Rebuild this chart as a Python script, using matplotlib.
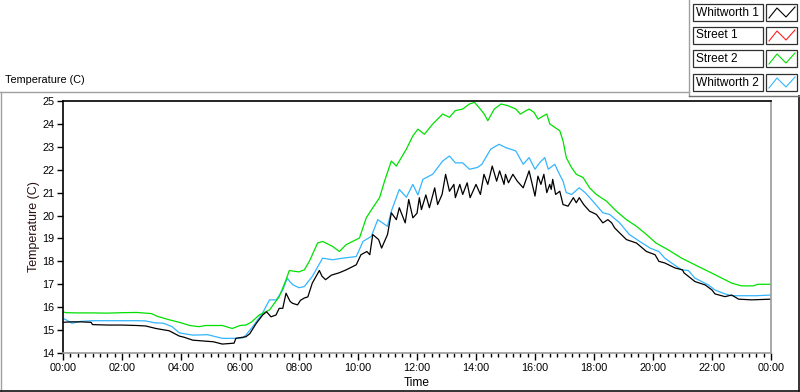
import matplotlib
matplotlib.use("Agg")
import matplotlib.pyplot as plt
from matplotlib.lines import Line2D
from matplotlib.patches import Rectangle
from matplotlib.ticker import MultipleLocator, FixedLocator

plt.rcParams['font.family'] = ['Liberation Sans', 'DejaVu Sans']

# ---------------- data ----------------
series_names = ["Whitworth 1", "Street 1", "Street 2", "Whitworth 2"]
series_colors = ["#000000", "#ff2020", "#00e000", "#33b5ff"]

w1_t = [0, 0.3, 0.6, 0.95, 1.0, 1.5, 2.0, 2.5, 2.8, 3.15, 3.6, 3.94, 4.1, 4.4, 5.1, 5.4,
        5.8, 5.86, 6.2, 6.33, 6.55, 6.77, 6.9, 7.05, 7.22, 7.33, 7.45, 7.56, 7.7, 7.78,
        7.95, 8.05, 8.18, 8.3, 8.45, 8.69, 8.78, 8.9, 9.1, 9.36, 9.6, 9.94, 10.1, 10.3,
        10.4, 10.5, 10.7, 10.8, 11.0, 11.13, 11.3, 11.4, 11.6, 11.72, 11.86, 12.0, 12.08,
        12.15, 12.3, 12.42, 12.6, 12.7, 12.85, 12.97, 13.1, 13.25, 13.3, 13.45, 13.55,
        13.7, 13.8, 14.0, 14.15, 14.27, 14.4, 14.55, 14.7, 14.8, 14.95, 15.0, 15.1,
        15.25, 15.4, 15.6, 15.8, 16.0, 16.1, 16.2, 16.3, 16.4, 16.5, 16.55, 16.6, 16.7,
        16.84, 16.95, 17.12, 17.3, 17.4, 17.5, 17.65, 17.85, 18.08, 18.3, 18.47, 18.6,
        18.7, 18.87, 19.1, 19.44, 19.78, 20.07, 20.2, 20.4, 20.75, 21.0, 21.05, 21.42,
        21.77, 22.0, 22.1, 22.44, 22.67, 22.9, 23.35, 24.0]
w1_v = [15.34, 15.36, 15.36, 15.34, 15.24, 15.22, 15.22, 15.2, 15.18, 15.07, 14.97, 14.74,
        14.69, 14.56, 14.49, 14.39, 14.43, 14.64, 14.71, 14.84, 15.29, 15.66, 15.8, 15.58,
        15.66, 15.95, 15.95, 16.61, 16.25, 16.17, 16.1, 16.3, 16.4, 16.45, 17.05, 17.6,
        17.35, 17.2, 17.4, 17.5, 17.63, 17.85, 18.29, 18.43, 18.29, 19.17, 18.95, 18.58,
        19.17, 20.12, 19.82, 20.34, 19.68, 20.7, 19.9, 20.1, 20.78, 20.26, 20.9, 20.34,
        21.21, 20.48, 20.92, 21.8, 21.06, 21.36, 20.78, 21.36, 20.92, 21.43, 20.78, 21.36,
        20.92, 21.8, 21.36, 22.16, 21.5, 21.95, 21.36, 21.8, 21.43, 21.8, 21.5, 21.21,
        21.95, 20.85, 21.72, 21.36, 21.8, 21.0, 21.36, 21.14, 21.58, 20.92, 21.06, 20.48,
        20.41, 20.78, 20.56, 20.78, 20.48, 20.19, 20.05, 19.68, 19.82, 19.68, 19.46, 19.24,
        18.95, 18.8, 18.43, 18.29, 18.0, 17.93, 17.71, 17.63, 17.5, 17.12, 16.97, 16.75,
        16.58, 16.46, 16.53, 16.35, 16.32, 16.35]

s1_t = []
s1_v = []

s2_t = [0, 0.1, 0.5, 1.0, 1.5, 2.0, 2.5, 3.0, 3.2, 3.6, 3.94, 4.3, 4.6, 4.85, 5.4, 5.74,
        6.0, 6.2, 6.4, 6.65, 7.0, 7.33, 7.56, 7.67, 8.0, 8.18, 8.35, 8.63, 8.8, 9.14, 9.37,
        9.6, 10.05, 10.28, 10.5, 10.73, 10.9, 11.13, 11.3, 11.4, 11.64, 11.86, 12.03, 12.25,
        12.53, 12.87, 13.1, 13.3, 13.55, 13.78, 13.95, 14.1, 14.28, 14.4, 14.62, 14.85,
        15.07, 15.35, 15.5, 15.8, 15.97, 16.1, 16.3, 16.4, 16.5, 16.67, 16.84, 16.95, 17.06,
        17.24, 17.4, 17.63, 17.85, 18.08, 18.42, 18.76, 19.1, 19.44, 19.78, 20.1, 20.52,
        20.97, 21.42, 21.88, 22.33, 22.67, 23.0, 23.4, 23.55, 24.0]
s2_v = [15.8, 15.76, 15.75, 15.75, 15.74, 15.76, 15.77, 15.72, 15.6, 15.45, 15.34, 15.2,
        15.15, 15.2, 15.2, 15.07, 15.2, 15.22, 15.36, 15.66, 15.88, 16.46, 17.19, 17.6,
        17.54, 17.63, 18.0, 18.8, 18.87, 18.65, 18.43, 18.73, 19.02, 19.9, 20.34, 20.78,
        21.5, 22.38, 22.16, 22.38, 22.9, 23.48, 23.77, 23.55, 23.99, 24.43, 24.29, 24.58,
        24.65, 24.87, 24.94, 24.72, 24.43, 24.14, 24.65, 24.87, 24.8, 24.65, 24.43, 24.65,
        24.5, 24.21, 24.36, 24.43, 24.0, 23.85, 23.7, 23.26, 22.53, 22.09, 21.8, 21.66,
        21.21, 20.92, 20.63, 20.19, 19.82, 19.53, 19.17, 18.8, 18.5, 18.14, 17.85, 17.56,
        17.27, 17.05, 16.93, 16.93, 17.0, 17.0]

w2_t = [0, 0.1, 0.3, 0.6, 1.0, 1.5, 2.0, 2.5, 2.8, 3.1, 3.4, 3.7, 3.94, 4.4, 4.9, 5.4,
        5.8, 6.1, 6.2, 6.43, 6.76, 7.0, 7.23, 7.45, 7.6, 7.7, 7.8, 8.0, 8.18, 8.45, 8.8,
        9.14, 9.48, 9.94, 10.17, 10.45, 10.67, 11.0, 11.13, 11.4, 11.64, 11.86, 12.03, 12.2,
        12.53, 12.87, 13.1, 13.3, 13.55, 13.78, 14.05, 14.2, 14.5, 14.78, 15.0, 15.35, 15.6,
        15.8, 16.0, 16.16, 16.33, 16.45, 16.67, 16.8, 16.95, 17.06, 17.24, 17.5, 17.7,
        17.96, 18.3, 18.53, 18.87, 19.2, 19.55, 19.9, 20.2, 20.4, 20.63, 20.97, 21.2, 21.42,
        21.88, 22.1, 22.44, 22.67, 23.0, 23.5, 24.0]
w2_v = [15.51, 15.45, 15.3, 15.38, 15.41, 15.41, 15.41, 15.41, 15.4, 15.32, 15.3, 15.15,
        14.88, 14.78, 14.8, 14.64, 14.64, 14.66, 14.78, 15.15, 15.73, 16.32, 16.32, 16.75,
        17.27, 17.1, 16.97, 16.85, 16.9, 17.34, 18.14, 18.07, 18.14, 18.21, 18.87, 19.09,
        19.82, 19.53, 20.19, 21.14, 20.8, 21.36, 20.9, 21.58, 21.8, 22.38, 22.6, 22.3, 22.3,
        22.02, 22.1, 22.24, 22.9, 23.11, 22.97, 22.82, 22.24, 22.53, 22.02, 22.31, 22.53,
        22.02, 22.24, 21.88, 21.5, 21.0, 20.92, 21.21, 21.0, 20.63, 20.12, 20.05, 19.68,
        19.17, 18.87, 18.58, 18.43, 18.14, 17.93, 17.63, 17.6, 17.27, 16.97, 16.75, 16.58,
        16.5, 16.5, 16.5, 16.53]

series_t = [w1_t, s1_t, s2_t, w2_t]
series_v = [w1_v, s1_v, s2_v, w2_v]

x_major = list(range(0, 25, 2))
x_labels = ["%02d:00" % (h % 24) for h in x_major]
y_ticks = list(range(14, 26))

# ---------------- figure ----------------
W, H = 800, 392
fig = plt.figure(figsize=(W / 100, H / 100), dpi=100)
fig.patch.set_facecolor("white")

def fx(x):
    return x / W

def fy(y):
    return 1 - y / H

ax = fig.add_axes([fx(63), fy(353), fx(771) - fx(63), fy(101) - fy(353)])
ax.set_facecolor("white")

order = [1, 3, 2, 0]
for i in order:
    ax.plot(series_t[i], series_v[i], color=series_colors[i], lw=0.9)

ax.set_xlim(0, 24)
ax.set_ylim(14, 25)
ax.xaxis.set_major_locator(FixedLocator(x_major))
ax.set_xticklabels(x_labels)
ax.xaxis.set_minor_locator(MultipleLocator(0.25))
ax.yaxis.set_major_locator(FixedLocator(y_ticks))
ax.set_yticklabels([str(v) for v in y_ticks])

ax.tick_params(axis="both", which="major", direction="out", color="black",
               labelsize=7.8, pad=2, width=1)
ax.tick_params(axis="x", which="major", length=5)
ax.tick_params(axis="y", which="major", length=4)
ax.tick_params(axis="x", which="minor", direction="out", length=3, width=1, color="black")

for side in ["left", "top"]:
    ax.spines[side].set_color("black")
    ax.spines[side].set_linewidth(1.2)
for side in ["right", "bottom"]:
    ax.spines[side].set_color("#9a9a9a")
    ax.spines[side].set_linewidth(1.2)

ax.set_xlabel("Time", fontsize=8.6, labelpad=3)
ax.set_ylabel("Temperature (C)", fontsize=9, labelpad=2, color="#2a1010")

# ---------------- panel frame ----------------
def fline(x0, y0, x1, y1, color, lw=1.0):
    fig.add_artist(Line2D([fx(x0), fx(x1)], [fy(y0), fy(y1)], color=color, lw=lw,
                          transform=fig.transFigure))

fline(0, 92, 689, 92, "#a0a0a0")
fline(0.5, 92, 0.5, 391, "#a0a0a0")
fline(0, 390.5, 799, 390.5, "#101010", 1.2)
fline(798.5, 96, 798.5, 391, "#101010", 1.2)
fline(689, 0, 689, 96, "#a0a0a0")
fline(689, 96, 799, 96, "#707070")

fig.text(fx(5), fy(80), "Temperature (C)", fontsize=7.8, ha="left", va="center")

# ---------------- legend ----------------
rows_y = [4, 27, 50, 74]
for name, col, y0 in zip(series_names, series_colors, rows_y):
    fig.add_artist(Rectangle((fx(693), fy(y0 + 17)), fx(763) - fx(693), fy(y0) - fy(y0 + 17),
                             transform=fig.transFigure, facecolor="white",
                             edgecolor="#303030", lw=0.9))
    fig.text(fx(696), fy(y0 + 8.5), name, fontsize=8.6, ha="left", va="center")
    fig.add_artist(Rectangle((fx(766), fy(y0 + 17)), fx(797) - fx(766), fy(y0) - fy(y0 + 17),
                             transform=fig.transFigure, facecolor="white",
                             edgecolor="#303030", lw=0.9))
    zx = [769, 777, 786, 795]
    zy = [y0 + 14, y0 + 4, y0 + 13, y0 + 3]
    fig.add_artist(Line2D([fx(v) for v in zx], [fy(v) for v in zy], color=col, lw=0.8,
                          transform=fig.transFigure))

fig.savefig("out.png", dpi=100, facecolor="white")
